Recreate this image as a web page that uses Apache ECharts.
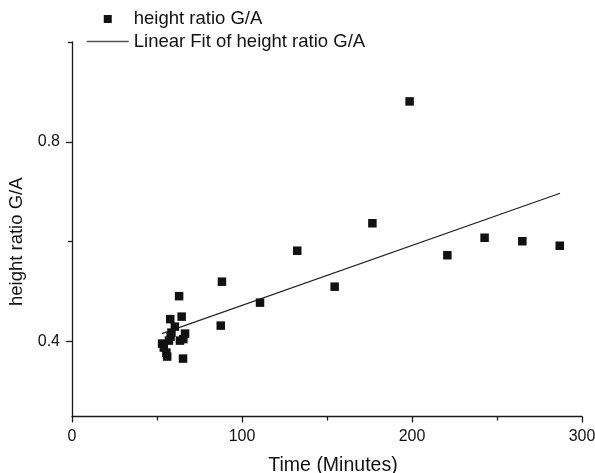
<!DOCTYPE html>
<html>
<head>
<meta charset="utf-8">
<style>
  html, body { margin: 0; padding: 0; background: #fff; }
  #chart { width: 595px; height: 473px; }
</style>
<script src="https://cdn.jsdelivr.net/npm/echarts@6/dist/echarts.min.js"></script>
</head>
<body>
<div id="chart"></div>
<script>
// Measured height ratio G/A against elapsed time
const timeMinutes = [53, 54, 55.5, 56, 57, 58, 58.5, 57.8, 60.5, 63, 64.5, 63.5, 65.5, 66.5, 65.3,
                     87.5, 88.2, 110.6, 132.5, 154.5, 176.7, 198.6, 220.8, 242.7, 264.9, 286.9];
const heightRatio = [0.396, 0.388, 0.378, 0.370, 0.402, 0.410, 0.418, 0.445, 0.430, 0.491, 0.450, 0.402, 0.405, 0.416, 0.366,
                     0.432, 0.520, 0.478, 0.582, 0.510, 0.637, 0.881, 0.573, 0.608, 0.601, 0.592];

// Linear fit line endpoints
const fitX = [52.9, 287.1];
const fitY = [0.416, 0.697];

// Axis ticks
const xMajorTicks = [0, 100, 200, 300];
const yMajorTicks = [0.4, 0.8];
const yMinorTicks = [0.6, 1.0];

const FONT = 'Liberation Sans, Arial, sans-serif';
const AXIS_COLOR = '#1a1a1a';
const SQUARE = 'path://M0,0L10,0L10,10L0,10Z';

const chart = echarts.init(document.getElementById('chart'), null, { renderer: 'canvas' });

const scatterPts = timeMinutes.map((t, i) => [t, heightRatio[i]]);
const fitPts = fitX.map((x, i) => [x, fitY[i]]);

chart.setOption({
  animation: false,
  backgroundColor: '#ffffff',
  grid: { left: 72, right: 13, top: 42, bottom: 56.5, containLabel: false, outerBoundsMode: 'none' },
  legend: {
    orient: 'vertical',
    left: 86,
    top: 9,
    padding: 0,
    itemWidth: 42,
    itemHeight: 8,
    itemGap: 2.5,
    symbolKeepAspect: true,
    textStyle: { fontFamily: FONT, fontSize: 18.5, lineHeight: 20, color: '#111' },
    data: [
      { name: 'height ratio G/A', icon: SQUARE, itemStyle: { color: '#111', opacity: 1 } },
      { name: 'Linear Fit of height ratio G/A',
        itemStyle: { opacity: 0 },
        lineStyle: { color: '#555', width: 1.5 } }
    ]
  },
  xAxis: {
    type: 'value',
    min: 0,
    max: 300,
    interval: 100,
    name: 'Time (Minutes)',
    nameLocation: 'middle',
    nameGap: 39,
    nameTextStyle: { fontFamily: FONT, fontSize: 19.5, color: '#111', padding: [0, 0, 0, 12] },
    axisLine: { show: true, lineStyle: { color: AXIS_COLOR, width: 1.3 } },
    axisTick: { show: true, inside: false, length: 6, lineStyle: { color: AXIS_COLOR, width: 1.3 }, customValues: xMajorTicks },
    minorTick: { show: true, splitNumber: 2, length: 4, lineStyle: { color: AXIS_COLOR, width: 1.3 } },
    axisLabel: { fontFamily: FONT, fontSize: 16, color: '#111', margin: 12, customValues: xMajorTicks },
    splitLine: { show: false },
    minorSplitLine: { show: false }
  },
  yAxis: [
    {
      type: 'value',
      min: 0.25,
      max: 1.0,
      name: 'height ratio G/A',
      nameLocation: 'middle',
      nameGap: 45,
      nameTextStyle: { fontFamily: FONT, fontSize: 18.5, color: '#111', padding: [0, 25, 0, 0] },
      axisLine: { show: true, lineStyle: { color: AXIS_COLOR, width: 1.3 } },
      axisTick: { show: true, inside: false, length: 6, lineStyle: { color: AXIS_COLOR, width: 1.3 }, customValues: yMajorTicks },
      axisLabel: { fontFamily: FONT, fontSize: 16, color: '#111', margin: 12, customValues: yMajorTicks,
                   formatter: v => v.toFixed(1) },
      splitLine: { show: false }
    },
    {
      type: 'value',
      min: 0.25,
      max: 1.0,
      position: 'left',
      axisLine: { show: false },
      axisTick: { show: true, inside: false, length: 4, lineStyle: { color: AXIS_COLOR, width: 1.3 }, customValues: yMinorTicks },
      axisLabel: { show: false },
      splitLine: { show: false }
    }
  ],
  series: [
    {
      name: 'height ratio G/A',
      type: 'scatter',
      symbol: 'rect',
      symbolSize: 8.5,
      itemStyle: { color: '#111111', opacity: 1 },
      data: scatterPts,
      z: 3
    },
    {
      name: 'Linear Fit of height ratio G/A',
      type: 'line',
      showSymbol: false,
      symbol: 'none',
      lineStyle: { color: '#222222', width: 1.2 },
      itemStyle: { color: '#555555' },
      data: fitPts,
      z: 2
    }
  ]
});
</script>
</body>
</html>
